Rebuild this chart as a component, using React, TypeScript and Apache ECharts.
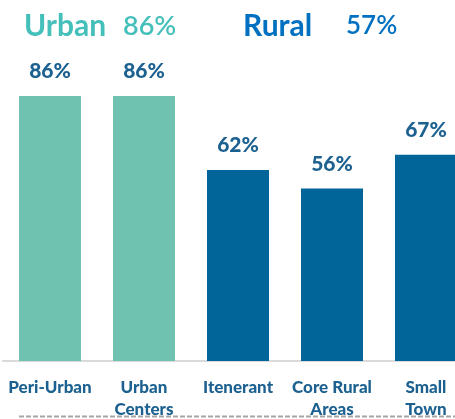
import React, { useEffect, useRef } from "react";
import * as echarts from "echarts";

const categories = ["Peri-Urban", "Urban\nCenters", "Itenerant", "Core Rural\nAreas", "Small\nTown"];
const values = [86, 86, 62, 56, 67];
const groups = ["urban", "urban", "rural", "rural", "rural"];
const summaryLabels = ["Urban", "Rural"];
const summaryValues = ["86%", "57%"];

const TEAL_BAR = "#6FC2AF";
const BLUE_BAR = "#01659A";
const LABEL = "#1C6190";
const FONT = "Lato, 'Noto Sans', sans-serif";

export default function App() {
  const ref = useRef<HTMLDivElement>(null);
  useEffect(() => {
    if (!ref.current) return;
    const chart = echarts.init(ref.current, undefined, { renderer: "svg" });
    chart.setOption({
      animation: false,
      grid: { left: 3, right: 2, top: 53, bottom: 58, containLabel: false },
      xAxis: {
        type: "category",
        data: categories,
        axisLine: { lineStyle: { color: "#D9D9D9", width: 2 } },
        axisTick: { show: false },
        axisLabel: {
          interval: 0,
          color: LABEL,
          fontFamily: FONT,
          fontWeight: 900,
          fontSize: 17,
          lineHeight: 22,
          margin: 14,
        },
      },
      yAxis: { type: "value", min: 0, max: 100, show: false, splitLine: { show: false } },
      series: [
        {
          type: "bar",
          barWidth: 62,
          data: values.map((v, i) => ({
            value: v,
            itemStyle: { color: groups[i] === "urban" ? TEAL_BAR : BLUE_BAR },
          })),
          label: {
            show: true,
            position: "top",
            distance: 16,
            formatter: "{c}%",
            color: LABEL,
            fontFamily: FONT,
            fontWeight: 900,
            fontSize: 21,
          },
        },
      ],
      graphic: [
        { type: "text", x: 24, y: 24, style: { text: summaryLabels[0], fill: "#45BFBA", font: `bold 30px ${FONT}`, textVerticalAlign: "middle" } },
        { type: "text", x: 123, y: 24, style: { text: summaryValues[0], fill: "#45BFBA", font: `600 27px ${FONT}`, textVerticalAlign: "middle" } },
        { type: "text", x: 243, y: 24, style: { text: summaryLabels[1], fill: "#0070C0", font: `bold 30px ${FONT}`, textVerticalAlign: "middle" } },
        { type: "text", x: 346, y: 24, style: { text: summaryValues[1], fill: "#0070C0", font: `600 26px ${FONT}`, textVerticalAlign: "middle" } },
        { type: "line", shape: { x1: 19, y1: 416.5, x2: 475, y2: 416.5 }, style: { stroke: "#A6A6A6", lineWidth: 2, lineDash: [5, 2] } },
      ],
    });
    return () => chart.dispose();
  }, []);
  return (
    <div style={{ position: "fixed", left: 0, top: 0, width: 455, height: 419, overflow: "hidden" }}>
      <div ref={ref} style={{ width: 475, height: 419 }} />
    </div>
  );
}
